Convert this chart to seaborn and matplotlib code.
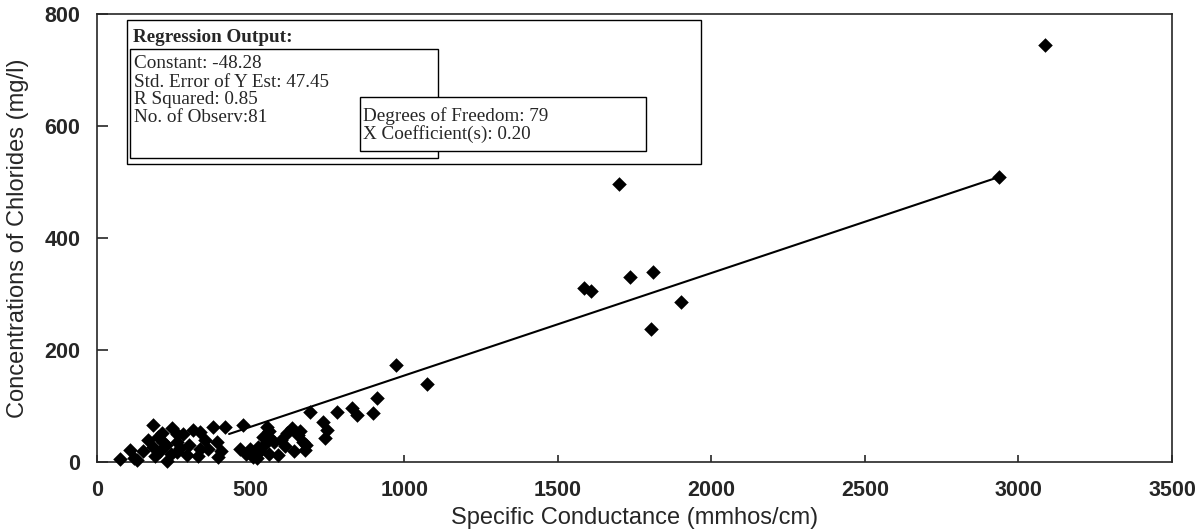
import numpy as np
import pandas as pd
import matplotlib
matplotlib.use("Agg")
import matplotlib.pyplot as plt
from matplotlib.patches import Rectangle
import seaborn as sns

# valores (condutancia x cloretos)
conductance = [3087, 2937, 1700, 1586, 1607, 1735, 1811, 1900, 1803, 973,
               1073, 911, 693, 782, 829, 845, 900, 737, 748, 742,
               634, 618, 672, 677, 590, 553, 560, 545, 530, 575,
               600, 560, 520, 612, 655, 680, 660, 476, 466, 498,
               525, 509, 541, 485, 417, 379, 390, 395, 362, 335,
               335, 314, 292, 350, 405, 300, 259, 259, 243, 227,
               210, 183, 167, 183, 107, 75, 120, 200, 225, 270,
               190, 240, 215, 280, 150, 205, 130, 330, 260, 560, 640]
chlorides = [745, 509, 496, 310, 305, 330, 340, 286, 238, 174,
             139, 115, 90, 90, 96, 84, 87, 72, 57, 42,
             60, 51, 36, 21, 12, 63, 45, 30, 20, 35,
             40, 15, 8, 28, 48, 30, 55, 66, 24, 24,
             27, 9, 45, 15, 63, 63, 36, 9, 24, 54,
             24, 57, 12, 40, 20, 30, 36, 18, 60, 2,
             51, 66, 39, 27, 21, 5, 8, 45, 30, 25,
             10, 15, 35, 50, 20, 20, 3, 10, 50, 55, 20]

# reta de regressao como aparece no grafico
fit_x = [430, 2937]
fit_y = [50, 509]

x_ticks = [0, 500, 1000, 1500, 2000, 2500, 3000, 3500]
y_ticks = [0, 200, 400, 600, 800]

stats_left = ["Constant: -48.28", "Std. Error of Y Est: 47.45",
              "R Squared: 0.85", "No. of Observ:81"]
stats_right = ["Degrees of Freedom: 79", "X Coefficient(s): 0.20"]

df = pd.DataFrame({"cond": conductance, "cl": chlorides})

#%%

sns.set_style("ticks")
plt.rcParams['font.family'] = ['Liberation Sans', 'DejaVu Sans']

W, H = 1201, 531
fig = plt.figure(figsize=(W / 100, H / 100), dpi=100)
ax = fig.add_axes([97 / W, 1 - 462 / H, (1172 - 97) / W, (462 - 14) / H])

sns.lineplot(x=fit_x, y=fit_y, ax=ax, color='black', linewidth=1.5)
sns.scatterplot(data=df, x='cond', y='cl', ax=ax, marker='D', color='black',
                s=55, linewidth=0, zorder=3, clip_on=False)

ax.set_xlim(0, 3500)
ax.set_ylim(0, 800)
ax.set_xticks(x_ticks)
ax.set_yticks(y_ticks)
ax.tick_params(axis='y', direction='in', length=8, width=1.2, pad=12, labelsize=15.5)
ax.tick_params(axis='x', direction='in', length=5, width=1.2, pad=13, labelsize=15.5)
for lab in ax.get_xticklabels() + ax.get_yticklabels():
    lab.set_fontweight('bold')
for sp in ax.spines.values():
    sp.set_visible(True)
    sp.set_linewidth(1.2)

ax.set_xlabel("Specific Conductance (mmhos/cm)", fontsize=17)
ax.set_ylabel("Concentrations of Chlorides (mg/l)", fontsize=17)
ax.xaxis.set_label_coords(0.5, -(507 - 462) / (462 - 14))
ax.yaxis.set_label_coords(-(97 - 29) / (1172 - 97), 0.5)

# caixas do resumo da regressao (coordenadas em pixels da figura)
def box(x0, y0, x1, y1):
    r = Rectangle((x0 / W, 1 - y1 / H), (x1 - x0) / W, (y1 - y0) / H,
                  transform=fig.transFigure, facecolor='white',
                  edgecolor='black', linewidth=1.0)
    fig.add_artist(r)

serif = ['Liberation Serif', 'DejaVu Serif']
fs = 13.8
box(127, 20, 701, 164)
fig.text(133 / W, 1 - 37 / H, "Regression Output:", family=serif,
         fontsize=fs, fontweight='bold', va='center')
box(130, 49, 438, 158)
for i, t in enumerate(stats_left):
    fig.text(134 / W, 1 - (64 + 18 * i) / H, t, family=serif,
             fontsize=fs, va='center')
box(360, 97, 646, 151)
for i, t in enumerate(stats_right):
    fig.text(363 / W, 1 - (116 + 18 * i) / H, t, family=serif,
             fontsize=fs, va='center')

fig.savefig("out.png", dpi=100)
